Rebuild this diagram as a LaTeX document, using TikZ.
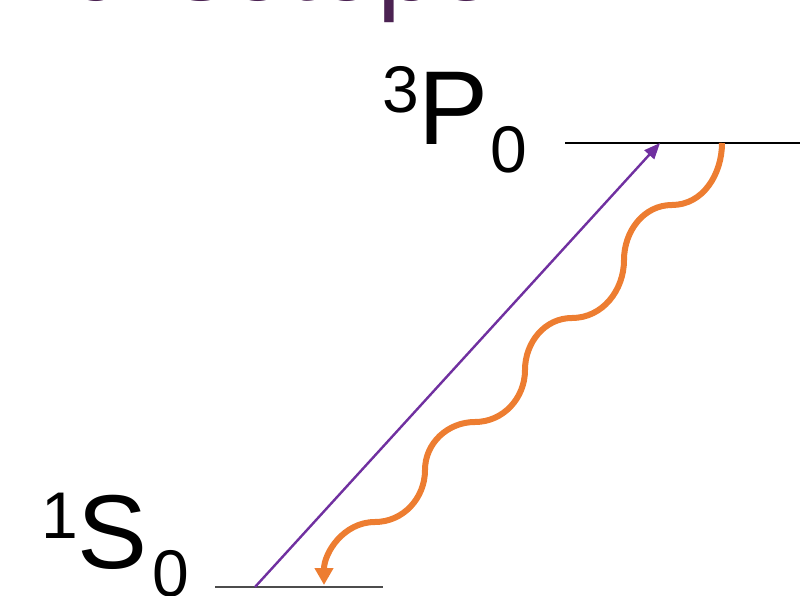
\documentclass[tikz,border=0pt]{standalone}
\usepackage{fontspec}
\setmainfont{Liberation Sans}
\usetikzlibrary{arrows.meta}
\definecolor{titlepurple}{RGB}{75,34,82}
\definecolor{pumppurple}{RGB}{112,48,160}
\definecolor{decayorange}{RGB}{237,125,49}

\begin{document}
\begin{tikzpicture}[
    x=1pt, y=1pt,
    every node/.style={inner sep=0pt, anchor=base west},
    term/.style={font=\fontsize{105}{120}\selectfont},
    level/.style={line width=1.5pt},
    pump/.style={draw=pumppurple, line width=2.4pt, -{Triangle[length=16pt,width=13pt]}},
    decay/.style={draw=decayorange, line width=6pt, -{Triangle[length=17pt,width=18pt]}}
]
\path[use as bounding box, clip] (0,0) rectangle (800,595);

\node (title) [anchor=base east, font=\fontsize{107}{120}\selectfont, text=titlepurple] at (496.5,594.5) {Bosonic isotope};
\node (p3) [term] at (382,450) {\raisebox{32pt}{\fontsize{66}{70}\selectfont 3}P\kern2pt\raisebox{-28pt}{\fontsize{66}{70}\selectfont 0}};
\node (s1) [term] at (41,27) {\raisebox{30pt}{\fontsize{66}{70}\selectfont 1}S\kern5pt\raisebox{-28pt}{\fontsize{66}{70}\selectfont 0}};

% energy levels
\coordinate (pL) at (565,452);
\coordinate (pR) at (800,452);
\coordinate (sL) at (215,8);
\coordinate (sR) at (383,8);
\draw[level, black] (pL) -- (pR);
\draw[level, black!70] (sL) -- (sR);

% excitation and decay
\coordinate (pumpA) at (255,8);
\coordinate (pumpB) at (660,452);
\coordinate (decA) at (722,452);
\coordinate (decB) at (324,10);
\draw[pump] (pumpA) -- (pumpB);
\draw[decay] (decA) to[out=-90,in=0] (672,390) to[out=180,in=90] (624,335)
    to[out=-90,in=0] (572,277) to[out=180,in=90] (525,225)
    to[out=-90,in=0] (475,173) to[out=180,in=90] (425,125)
    to[out=-90,in=0] (375,73) to[out=180,in=90] (decB);
\end{tikzpicture}
\end{document}
